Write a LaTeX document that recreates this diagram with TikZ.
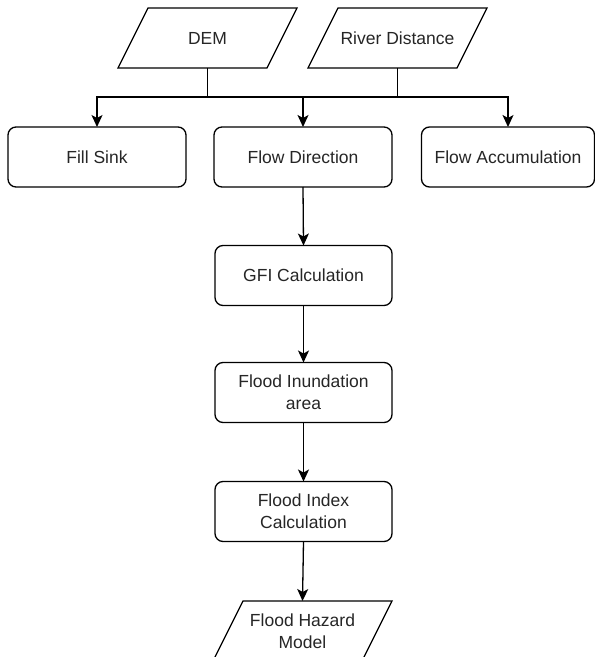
\documentclass[tikz,border=0pt]{standalone}
\usepackage{fontspec}
\setmainfont{Liberation Sans}
\usetikzlibrary{arrows.meta}
\begin{document}
\begin{tikzpicture}[x=1bp,y=-1bp,
  txt/.style={font=\fontsize{17.5bp}{21.7bp}\selectfont, align=center, inner sep=0pt, outer sep=0pt, text=black!85},
  box/.style={txt, draw, line width=1.3bp, rounded corners=8bp, minimum width=177bp, minimum height=60bp},
  para/.style={txt, minimum width=149bp, minimum height=60bp},
  paraline/.style={draw, line width=1.3bp, line join=miter},
  wire/.style={draw, line width=1.3bp, line join=miter},
  link/.style={wire, -{Stealth[length=12bp,width=11bp,inset=3bp]}}]
\useasboundingbox (0,0) rectangle (595,657);
\clip (0,0) rectangle (595,657);
\fill[white] (0,0) rectangle (595,657);

% inputs
\node[para] (dem) at (207.5,38) {DEM};
\node[para] (riv) at (397.5,38) {River Distance};
\node[para] (haz) at (302.5,631) {Flood Hazard\\Model};
\foreach \n in {dem,riv,haz}{
  \path[paraline] ([xshift=15bp]\n.north west) -- ([xshift=15bp]\n.north east)
    -- ([xshift=-15bp]\n.south east) -- ([xshift=-15bp]\n.south west) -- cycle;
}

% process boxes
\node[box, minimum width=178bp] (fill) at (97,157) {Fill Sink};
\node[box, minimum width=178bp] (dir) at (303,157) {Flow Direction};
\node[box, minimum width=173bp] (acc) at (508,157) {Flow Accumulation};
\node[box] (gfi) at (303.5,275.5) {GFI Calculation};
\node[box] (inun) at (303.5,392.5) {Flood Inundation\\area};
\node[box] (idx) at (303.5,511.5) {Flood Index\\Calculation};

% connectors
\path (dem.south) ++(0,29) coordinate (jd);
\path (riv.south) ++(0,29) coordinate (jr);
\path[link] (dem.south) -- (jd) -| (fill.north);
\path[link] (jd) -| (dir.north);
\path[link] (riv.south) -- (jr) -| (acc.north);
\path[wire] (jd -| dir.north) -- (jr);
\path[link] (dir.south) -- (gfi.north);
\path[link] (gfi.south) -- (inun.north);
\path[link] (inun.south) -- (idx.north);
\path[link] (idx.south) -- (haz.north);
\end{tikzpicture}
\end{document}
